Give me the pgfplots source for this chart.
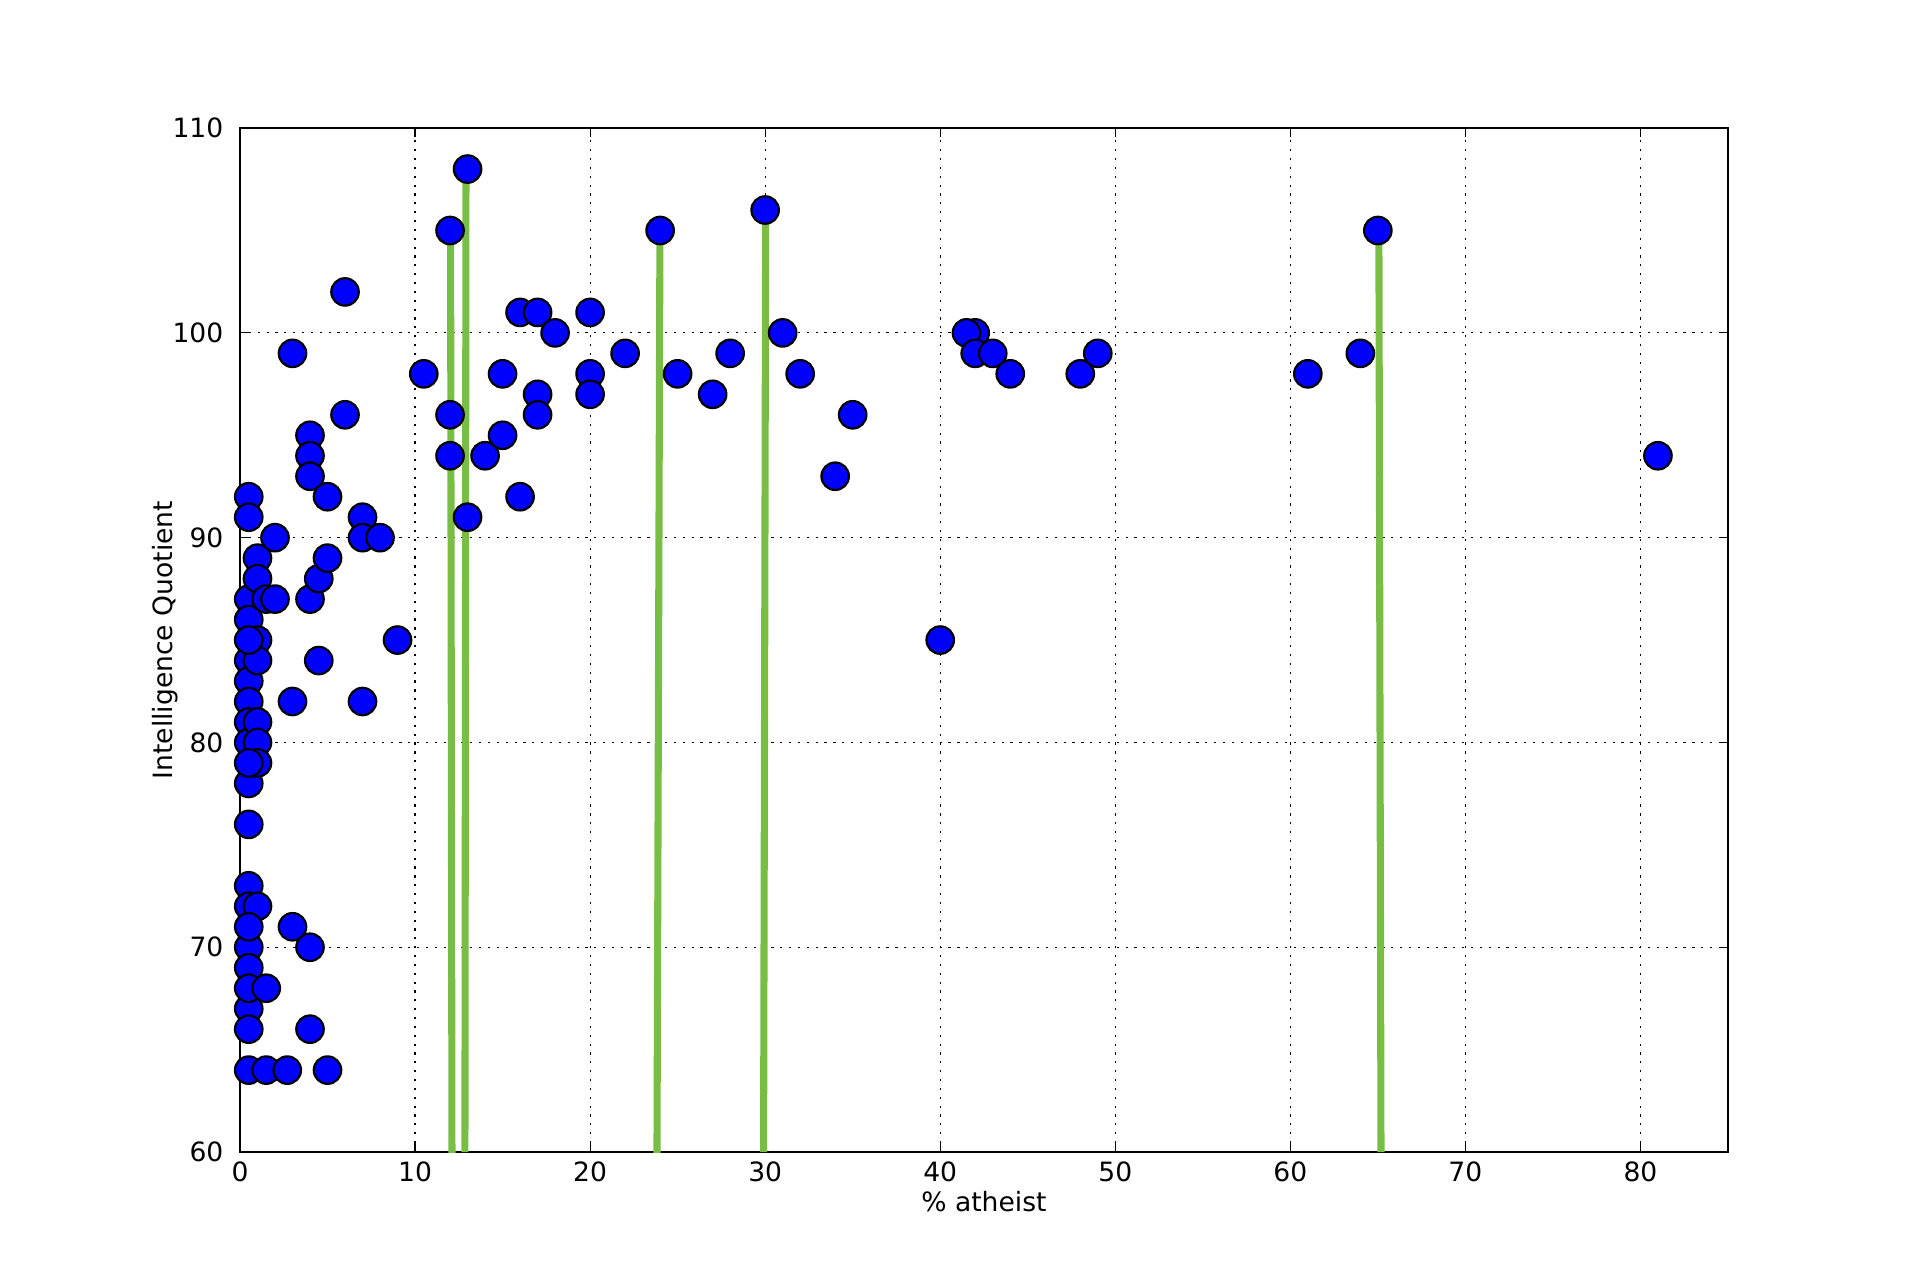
\documentclass[border=0pt]{standalone}
\usepackage{fontspec}
\setmainfont{DejaVu Sans}
\usepackage{pgfplots}
\pgfplotsset{compat=1.18}
\definecolor{mplblue}{RGB}{0,0,255}
\definecolor{lgreen}{RGB}{120,190,68}
\begin{document}
\begin{tikzpicture}
\path[use as bounding box] (-108.4pt,-57.8pt) rectangle (758.84pt,520.36pt);
\begin{axis}[
  at={(0,0)}, anchor=south west,
  scale only axis, width=672.1pt, height=462.5pt,
  xmin=0, xmax=85, ymin=60, ymax=110,
  xtick={0,10,...,80}, ytick={60,70,...,110},
  axis line style={black, line width=1pt},
  tick align=inside, major tick length=4pt,
  tick style={black, line width=0.5pt},
  grid=major,
  major grid style={black, line width=0.5pt, dash pattern=on 1pt off 3pt},
  /pgf/number format/assume math mode=true,
  tick label style={font=\fontsize{12}{14}\selectfont, black},
  yticklabel style={xshift=-4pt},
  xticklabel style={yshift=-1pt},
  label style={font=\fontsize{12}{14}\selectfont},
  xlabel={\% atheist},
  ylabel={Intelligence Quotient},
  xlabel style={at={(axis description cs:0.5,-0.058)}, anchor=base},
  ylabel style={at={(axis description cs:-0.05,0.5)}, anchor=center, rotate=0},
]
\addplot[only marks, mark=*, mark size=6.2pt,
  mark options={fill=mplblue, draw=black, line width=1pt}] coordinates {
(0.5,92) (0.5,91) (0.5,87) (0.5,86) (0.5,84) (0.5,83) (0.5,82)
(0.5,81) (0.5,80) (0.5,78) (0.5,76) (0.5,73) (0.5,72)
(0.5,70) (0.5,69) (0.5,67) (0.5,66) (0.5,64)
(1,89) (1,88) (1,85) (1,84) (1,81) (1,80) (1,79) (1,72)
(0.5,85) (0.5,79) (0.5,71) (0.5,68)
(1.5,87) (1.5,68) (1.5,64)
(2,90) (2,87)
(2.7,64)
(3,99) (3,82) (3,71)
(4,95) (4,94) (4,93) (4,87) (4,70) (4,66)
(4.5,88) (4.5,84)
(5,92) (5,89) (5,64)
(6,102) (6,96)
(7,91) (7,90) (7,82)
(8,90) (9,85) (10.5,98)
(12,105) (12,96) (12,94)
(13,108) (13,91)
(14,94) (15,98) (15,95)
(16,101) (16,92)
(17,101) (17,97) (17,96)
(18,100)
(20,101) (20,98) (20,97)
(22,99) (24,105) (25,98) (27,97) (28,99) (30,106) (31,100) (32,98)
(34,93) (35,96) (40,85)
(42,100) (41.5,100) (42,99) (43,99) (44,98) (48,98) (49,99)
(61,98) (64,99) (65,105) (81,94)
};
\addplot[lgreen, line width=3.2pt] coordinates {(12.11,59.7) (12.03,105)};
\addplot[lgreen, line width=3.2pt] coordinates {(12.85,60) (12.91,108)};
\addplot[lgreen, line width=3.2pt] coordinates {(23.82,59.8) (23.99,105)};
\addplot[lgreen, line width=3.2pt] coordinates {(29.91,60) (30.03,106)};
\addplot[lgreen, line width=3.2pt] coordinates {(65.18,60) (65.06,105)};
\end{axis}
\end{tikzpicture}
\end{document}
